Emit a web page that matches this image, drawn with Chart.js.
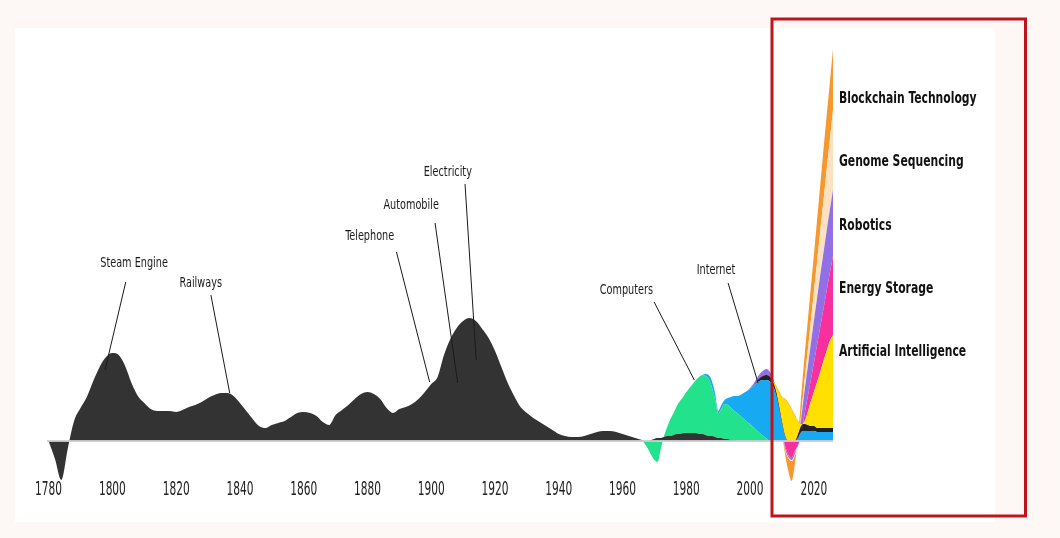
<!DOCTYPE html>
<html>
<head>
<meta charset="utf-8">
<title>Waves of Innovation</title>
<script src="https://cdn.jsdelivr.net/npm/chart.js@4.4.1/dist/chart.umd.min.js"></script>
<style>
  html, body { margin: 0; padding: 0; background: #fdf8f6; }
  #panel { position: absolute; left: 15px; top: 28px; width: 980px; height: 494px; background: #fff; }
  #wrap { position: absolute; left: 0; top: 0; width: 1060px; height: 538px; }
</style>
</head>
<body>
<div id="panel"></div>
<div id="wrap"><canvas id="waves"></canvas></div>
<script>
// x grid: every 2 years up to 1958, then yearly where the layers move fast
const years = [];
for (let y = 1780; y < 1960; y += 2) years.push(y);
for (let y = 1960; y <= 2026; y++) years.push(y);

// layer thickness (stacked bottom -> top), each list starts at its own year
const otherFrom = 1780;
const other = [
  0, -18, -39, -8, 20, 33, 44, 60, 74, 84,          // 1780-1798
  88, 86, 75, 58, 45, 38, 32, 30, 30, 30,           // 1800-1818
  29, 31, 34, 36, 39, 43, 46, 48, 48, 45,           // 1820-1838
  38, 30, 22, 15, 13, 16, 18, 20, 24, 28,           // 1840-1858
  29, 28, 25, 19, 16, 26, 31, 36, 42, 47,           // 1860-1878
  49, 47, 42, 33, 28, 32, 34, 37, 42, 49,           // 1880-1898
  57, 64, 86, 102, 113, 120, 123, 120, 112, 103,    // 1900-1918
  90, 74, 58, 45, 34, 28, 23, 19, 15, 11,           // 1920-1938
  7, 5, 4, 4, 5, 7, 9, 10, 10, 9,                   // 1940-1958
  7, 6, 5, 4, 3, 2, 1, 0, 0, 1,                     // 1960-1969
  2, 3, 3, 4, 5, 5, 6, 7, 7, 8,                     // 1970-1979
  8, 8, 8, 8, 7, 7, 6, 5, 5, 4,                     // 1980-1989
  3, 3, 2, 2, 1, 1                                  // 1990-1995
];
const computersFrom = 1966;
const computers = [
  0, -3, -8, -15, -21, -24, -11, 1, 9, 17,          // 1966-1975
  22, 28, 33, 36, 41, 45, 49, 53, 57, 59,           // 1976-1985
  59, 57, 49, 38, 25, 29, 35, 34, 32, 29,           // 1986-1995
  28, 25, 22, 19, 17, 14, 11, 8, 5, 3, 0            // 1996-2006
];
const internetFrom = 1985;
const internet = [
  0, 2, 4, 6, 6, 2, 4, 4, 7, 11,                    // 1985-1994
  15, 17, 21, 26, 31, 35, 41, 47, 52, 56,           // 1995-2004
  58, 60, 56, 48, 34, 18, 5, 0, 0, 0,               // 2005-2014
  3, 9, 10, 10, 10, 10, 9, 9, 9, 9, 9, 9            // 2015-2026
];
const hardwareFrom = 2002;
const hardware = [
  1, 3, 4, 5, 5, 4, 3, 2, 1, 0,                     // 2002-2011
  0, 0, 0, 3, 6, 7, 6, 5, 5, 4,                     // 2012-2021
  4, 4, 4, 4, 4                                     // 2022-2026
];
const aiFrom = 2006;
const ai = [0, 2, 5, 14, 25, 37, 38, 32, 26, 14, 2, 2, 12, 24, 34, 46, 56, 67, 77, 87, 93];
const energyFrom = 2006;
const energy = [0, -2, -8, -20, -34, -47, -52, -49, -36, -24, -12, 6, 15, 21, 29, 37, 45, 52, 60, 68, 79];
const roboticsFrom = 2000;
const robotics = [1, 2, 3, 4, 5, 6, 5, 4, 4, 3, 0, -3, -2, -2, -3, 4, 17, 23, 29, 36, 42, 47, 52, 56, 60, 63, 66];
const genomeFrom = 2011;
const genome = [-1, -1, -1, -2, -2, 4, 10, 16, 22, 29, 36, 44, 52, 61, 70, 80];
const blockchainFrom = 2010;
const blockchain = [-2, -5, -13, -20, -9, 4, 18, 24, 29, 34, 37, 42, 46, 51, 54, 57, 61];

// callouts: label centre, leader line start and end, in (year, value)
const callouts = [
  { text: 'Steam Engine', at: [1806.8, 178], from: [1804.2, 159], to: [1797.7, 71] },
  { text: 'Railways',     at: [1827.7, 158], from: [1830.9, 146], to: [1836.8, 48] },
  { text: 'Telephone',    at: [1880.7, 205], from: [1889.1, 189], to: [1899.5, 59] },
  { text: 'Automobile',   at: [1893.7, 236], from: [1901.2, 218], to: [1908.3, 58] },
  { text: 'Electricity',  at: [1905.2, 269], from: [1910.6, 257], to: [1914.1, 81] },
  { text: 'Computers',    at: [1961.2, 151], from: [1969.9, 139], to: [1982.5, 61] },
  { text: 'Internet',     at: [1989.3, 171], from: [1993.1, 158], to: [2002.5, 58] }
];
const emerging = [
  { text: 'Blockchain Technology', value: 342 },
  { text: 'Genome Sequencing', value: 279 },
  { text: 'Robotics', value: 215 },
  { text: 'Energy Storage', value: 152 },
  { text: 'Artificial Intelligence', value: 89 }
];

const FONT = "'DejaVu Sans Condensed', 'DejaVu Sans', sans-serif";

function onGrid(from, values) {
  const start = years.indexOf(from);
  return years.map((x, i) => {
    const v = values[i - start];
    return { x: x, y: (i >= start && v !== undefined) ? v : 0 };
  });
}

function layer(label, from, values, color, first) {
  return {
    label: label,
    data: onGrid(from, values),
    backgroundColor: color,
    borderWidth: 0,
    pointRadius: 0,
    cubicInterpolationMode: 'monotone',
    fill: first ? 'origin' : '-1'
  };
}

// narrow text: the original uses a condensed face, so squeeze horizontally
function narrowText(ctx, text, px, py, align, sx) {
  ctx.save();
  ctx.translate(px, py);
  ctx.scale(sx, 1);
  ctx.textAlign = align;
  ctx.fillText(text, 0, 0);
  ctx.restore();
}

const overlay = {
  id: 'overlay',
  afterDatasetsDraw(chart) {
    const { ctx, chartArea, scales } = chart;
    const x = scales.x, y = scales.y;
    ctx.save();
    const y0 = y.getPixelForValue(0);
    ctx.strokeStyle = 'rgba(205,205,205,0.9)';
    ctx.lineWidth = 2;
    ctx.beginPath();
    ctx.moveTo(chartArea.left, y0);
    ctx.lineTo(chartArea.right, y0);
    ctx.stroke();

    ctx.textBaseline = 'middle';
    // year ticks from the x scale
    ctx.fillStyle = '#222';
    ctx.font = '19px ' + FONT;
    x.ticks.forEach(t => {
      narrowText(ctx, String(t.value), x.getPixelForValue(t.value), chartArea.bottom + 5, 'center', 0.62);
    });

    ctx.strokeStyle = '#1a1a1a';
    ctx.fillStyle = '#1a1a1a';
    ctx.lineWidth = 1;
    ctx.font = '14px ' + FONT;
    callouts.forEach(c => {
      ctx.beginPath();
      ctx.moveTo(x.getPixelForValue(c.from[0]), y.getPixelForValue(c.from[1]));
      ctx.lineTo(x.getPixelForValue(c.to[0]), y.getPixelForValue(c.to[1]));
      ctx.stroke();
      narrowText(ctx, c.text, x.getPixelForValue(c.at[0]), y.getPixelForValue(c.at[1]), 'center', 0.77);
    });

    ctx.fillStyle = '#111';
    ctx.font = 'bold 16px ' + FONT;
    emerging.forEach(e => narrowText(ctx, e.text, chartArea.right + 6, y.getPixelForValue(e.value), 'left', 0.75));

    // highlight frame around the newest wave
    ctx.strokeStyle = '#c0141c';
    ctx.lineWidth = 3;
    ctx.strokeRect(772, 19, 253.5, 497);
    ctx.restore();
  }
};

new Chart(document.getElementById('waves'), {
  type: 'line',
  data: {
    datasets: [
      layer('Other technologies', otherFrom, other, '#333333', true),
      layer('Computers', computersFrom, computers, '#22e38c'),
      layer('Internet', internetFrom, internet, '#17a9f2'),
      layer('Other technologies', hardwareFrom, hardware, '#222222'),
      layer('Artificial Intelligence', aiFrom, ai, '#ffe000'),
      layer('Energy Storage', energyFrom, energy, '#f8309d'),
      layer('Robotics', roboticsFrom, robotics, '#9170e6'),
      layer('Genome Sequencing', genomeFrom, genome, '#fce2c2'),
      layer('Blockchain Technology', blockchainFrom, blockchain, '#f7982f')
    ]
  },
  options: {
    responsive: true,
    maintainAspectRatio: false,
    animation: false,
    layout: { padding: { left: 47, right: 227, top: 41, bottom: 53 } },
    plugins: { legend: { display: false }, tooltip: { enabled: false } },
    scales: {
      x: {
        type: 'linear',
        min: 1779.5,
        max: 2026,
        grid: { display: false, drawTicks: false },
        border: { display: false },
        ticks: { display: false, stepSize: 20, includeBounds: false }
      },
      y: {
        display: false,
        stacked: 'single',
        min: -44,
        max: 400
      }
    }
  },
  plugins: [overlay]
});
</script>
</body>
</html>
